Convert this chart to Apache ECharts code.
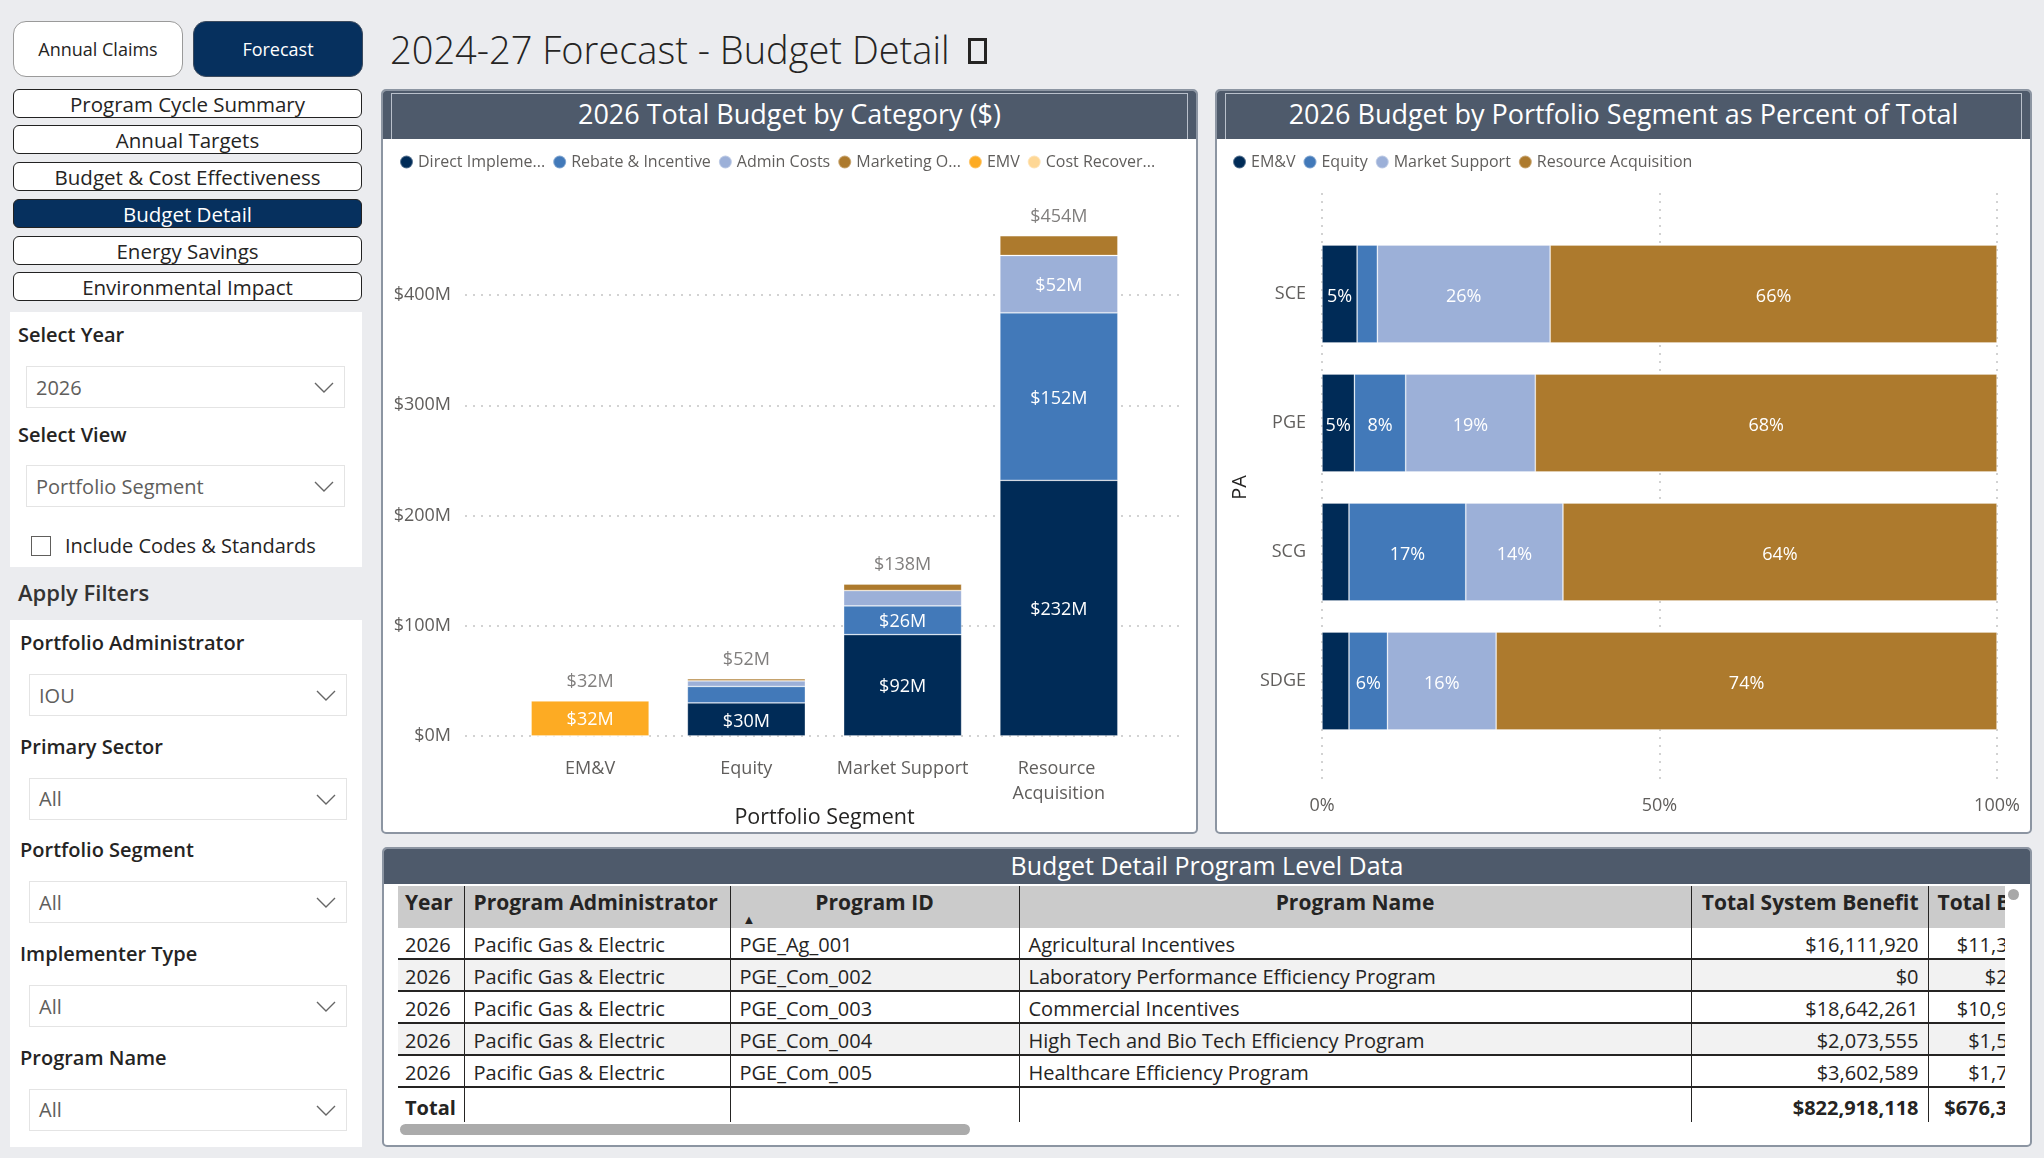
<!DOCTYPE html>
<html>
<head>
<meta charset="utf-8">
<title>2024-27 Forecast - Budget Detail</title>
<script src="https://cdn.jsdelivr.net/npm/echarts@6/dist/echarts.min.js"></script>
<style>
  body { margin: 0; width: 2044px; height: 1158px; background: #EBECEF; overflow: hidden; position: relative;
         font-family: 'Open Sans', 'Noto Sans', sans-serif; color: #252423; }
  .abs { position: absolute; box-sizing: border-box; }
  .topbtn { position: absolute; top: 21px; height: 56px; width: 170px; box-sizing: border-box; border-radius: 13px;
            display: flex; align-items: center; justify-content: center; font-size: 18px; }
  .nav { position: absolute; left: 13px; width: 349px; height: 29px; box-sizing: border-box; border: 1.5px solid #222;
         border-radius: 6px; background: #fff; display: flex; align-items: center; justify-content: center; font-size: 20.5px; }
  .nav.on { background: #06305E; color: #fff; }
  .panel { position: absolute; left: 10px; width: 352px; background: #fff; }
  .lbl { position: absolute; font-size: 20px; font-weight: 600; line-height: 24px; }
  .dd { position: absolute; height: 42px; box-sizing: border-box; border: 1px solid #E4E4E4; background: #fff;
        font-size: 20px; color: #605E5C; display: flex; align-items: center; padding-left: 9px; }
  .dd svg { position: absolute; right: 10px; top: 15px; }
  .card { position: absolute; background: #fff; border: 2px solid #8C95A2; border-radius: 5px; box-sizing: border-box; overflow: hidden; }
  .band { position: absolute; left: 0; right: 0; top: 0; background: #4E5A6B; color: #fff; text-align: center; white-space: nowrap; }
  .band .inner { position: absolute; left: 8px; right: 8px; top: 2px; bottom: 0; border: 1px solid #B9C0CB; border-bottom: none; }
  table { border-collapse: collapse; table-layout: fixed; font-size: 20px; width: 1681px; }
  th { background: #CBCBCB; font-weight: 700; font-size: 21px; height: 32px; padding: 0 9px 10px 9px; border-left: 1px solid #252423;
       white-space: nowrap; overflow: hidden; }
  td { height: 27px; padding: 3px 9px 0 9px; border-left: 1px solid #252423; white-space: nowrap; overflow: hidden; }
  th:first-child, td:first-child { border-left: none; padding-left: 7px; }
  tr.row td { border-bottom: 2px solid #252423; }
  tr.alt td { background: #F2F2F2; }
  tr.tot td { font-weight: 700; height: 30px; padding-top: 4px; }
  #chart { position: absolute; left: 0; top: 0; width: 2044px; height: 1158px; z-index: 5; }
</style>
</head>
<body>

<div class="topbtn" style="left:13px;background:#fff;border:1.5px solid #9A9A9A;">Annual Claims</div>
<div class="topbtn" style="left:193px;background:#06305E;border:1.5px solid #3B4A5E;color:#fff;">Forecast</div>
<div class="abs" style="left:390px;top:19px;font-size:38px;font-weight:300;white-space:nowrap;line-height:60px;">2024-27 Forecast - Budget Detail</div>
<div class="abs" style="left:968px;top:38px;width:19px;height:26px;border:3px solid #252423;"></div>

<div id="navs"></div>

<div class="panel" style="top:312px;height:255px;">
  <div class="lbl" style="left:8px;top:11px;">Select Year</div>
  <div class="dd" style="left:16px;top:54px;width:319px;">2026<svg width="20" height="11"><polyline points="1,1 10,10 19,1" fill="none" stroke="#666" stroke-width="1.4"/></svg></div>
  <div class="lbl" style="left:8px;top:111px;">Select View</div>
  <div class="dd" style="left:16px;top:153px;width:319px;">Portfolio Segment<svg width="20" height="11"><polyline points="1,1 10,10 19,1" fill="none" stroke="#666" stroke-width="1.4"/></svg></div>
  <div class="abs" style="left:21px;top:224px;width:20px;height:20px;border:1.5px solid #605E5C;"></div>
  <div class="abs" style="left:55px;top:220px;font-size:20px;">Include Codes &amp; Standards</div>
</div>

<div class="abs" style="left:18px;top:577px;font-size:22px;font-weight:600;color:#333;">Apply Filters</div>
<div class="panel" id="filters" style="top:620px;height:527px;"></div>

<div class="card" style="left:381px;top:89px;width:817px;height:745px;">
  <div class="band" style="height:48px;"><div class="inner"></div><div style="position:relative;line-height:46px;font-size:27px;">2026 Total Budget by Category ($)</div></div>
</div>
<div class="card" style="left:1215px;top:89px;width:817px;height:745px;">
  <div class="band" style="height:48px;"><div class="inner"></div><div style="position:relative;line-height:46px;font-size:27px;">2026 Budget by Portfolio Segment as Percent of Total</div></div>
</div>

<div class="card" style="left:382px;top:847px;width:1650px;height:300px;">
  <div class="band" style="height:35px;line-height:33px;font-size:25px;">Budget Detail Program Level Data</div>
  <div class="abs" style="left:14px;top:37px;width:1607px;height:238px;overflow:hidden;">
    <table id="tbl"></table>
  </div>
  <div class="abs" style="left:16px;top:275px;width:570px;height:11px;border-radius:6px;background:#ABABAB;"></div>
  <div class="abs" style="left:1624px;top:40px;width:11px;height:11px;border-radius:6px;background:#A8A8A8;"></div>
</div>

<div id="chart"></div>

<script>
// ---- chart data ----
var segments = ['EM&V', 'Equity', 'Market Support', 'Resource Acquisition'];
var budgetCategories = ['Direct Implementation', 'Rebate & Incentive', 'Admin Costs', 'Marketing Outreach', 'EMV', 'Cost Recovery'];
var legendShort = ['Direct Impleme...', 'Rebate & Incentive', 'Admin Costs', 'Marketing O...', 'EMV', 'Cost Recover...'];
// $M per segment (EM&V, Equity, Market Support, Resource Acquisition)
var directImpl = [0, 30, 92, 232];
var rebateIncentive = [0, 15, 26, 152];
var adminCosts = [0, 5, 14, 52];
var marketing = [0, 2, 6, 18];
var emv = [32, 0, 0, 0];
var costRecovery = [0, 0, 0, 0];
var budgetTicks = [0, 100, 200, 300, 400];

// percent of PA total
var admins = ['SCE', 'PGE', 'SCG', 'SDGE'];
var pctEmv = [5.2, 4.8, 4.0, 4.0];
var pctEquity = [3.0, 7.6, 17.3, 5.7];
var pctMarket = [25.6, 19.2, 14.4, 16.1];
var pctResource = [66.2, 68.4, 64.3, 74.2];
var shareTicks = [0, 50, 100];

// ---- table data ----
var tblHead = ['Year', 'Program Administrator', 'Program ID', 'Program Name', 'Total System Benefit', 'Total Budget'];
var tblYears = ['2026', '2026', '2026', '2026', '2026'];
var tblAdmins = ['Pacific Gas & Electric', 'Pacific Gas & Electric', 'Pacific Gas & Electric', 'Pacific Gas & Electric', 'Pacific Gas & Electric'];
var tblIds = ['PGE_Ag_001', 'PGE_Com_002', 'PGE_Com_003', 'PGE_Com_004', 'PGE_Com_005'];
var tblNames = ['Agricultural Incentives', 'Laboratory Performance Efficiency Program', 'Commercial Incentives',
                'High Tech and Bio Tech Efficiency Program', 'Healthcare Efficiency Program'];
var tblBenefit = ['$16,111,920', '$0', '$18,642,261', '$2,073,555', '$3,602,589'];
var tblBudget = ['$11,340,210', '$240,115', '$10,950,372', '$1,540,806', '$1,720,144'];
var tblTotals = ['$822,918,118', '$676,340,552'];

var navItems = ['Program Cycle Summary', 'Annual Targets', 'Budget & Cost Effectiveness', 'Budget Detail', 'Energy Savings', 'Environmental Impact'];
var navTops = [89, 125, 162, 199, 236, 272];
var filterLabels = ['Portfolio Administrator', 'Primary Sector', 'Portfolio Segment', 'Implementer Type', 'Program Name'];
var filterValues = ['IOU', 'All', 'All', 'All', 'All'];

var chevron = '<svg width="20" height="11"><polyline points="1,1 10,10 19,1" fill="none" stroke="#666" stroke-width="1.4"/></svg>';

// sidebar
var navHtml = '';
navItems.forEach(function (t, i) {
  navHtml += '<div class="nav' + (t === 'Budget Detail' ? ' on' : '') + '" style="top:' + navTops[i] + 'px">' + t.replace('&', '&amp;') + '</div>';
});
document.getElementById('navs').innerHTML = navHtml;

var fHtml = '';
filterLabels.forEach(function (t, i) {
  var y = i * 103.7;
  fHtml += '<div class="lbl" style="left:10px;top:' + (y + 11) + 'px">' + t + '</div>';
  fHtml += '<div class="dd" style="left:19px;top:' + (y + 54) + 'px;width:318px">' + filterValues[i] + chevron + '</div>';
});
document.getElementById('filters').innerHTML = fHtml;

// table
var widths = [66, 266, 289, 672, 237, 151];
var headAlign = ['left', 'left', 'center', 'center', 'right', 'left'];
var cellAlign = ['left', 'left', 'left', 'left', 'right', 'right'];
var h = '<colgroup>' + widths.map(function (w) { return '<col style="width:' + w + 'px">'; }).join('') + '</colgroup><tr>';
tblHead.forEach(function (t, i) {
  var extra = t === 'Program ID' ? '<div style="position:absolute;left:12px;top:27px;font-size:13px;line-height:13px;">&#9650;</div>' : '';
  h += '<th style="text-align:' + headAlign[i] + ';position:relative;vertical-align:middle;">' + t + extra + '</th>';
});
h += '</tr>';
tblIds.forEach(function (id, r) {
  var cells = [tblYears[r], tblAdmins[r].replace('&', '&amp;'), id, tblNames[r], tblBenefit[r], tblBudget[r]];
  h += '<tr class="row' + (r % 2 ? ' alt' : '') + '">' + cells.map(function (c, i) {
    return '<td style="text-align:' + cellAlign[i] + '">' + c + '</td>';
  }).join('') + '</tr>';
});
h += '<tr class="tot"><td>Total</td><td></td><td></td><td></td><td style="text-align:right">' + tblTotals[0] +
     '</td><td style="text-align:right">' + tblTotals[1] + '</td></tr>';
document.getElementById('tbl').innerHTML = h;

// ---- charts ----
var FONT = "'Open Sans', 'Noto Sans', sans-serif";
var GRAY = '#605E5C';
var palette = ['#002B57', '#4279B9', '#9CB0D8', '#AD7A2D', '#FDAB23', '#FED795'];
var dotted = { type: [2, 6], color: '#C4C4C4', width: 1.5 };
var seam = { borderColor: 'rgba(255,255,255,0.35)', borderWidth: 0.8 };
var categoryValues = [directImpl, rebateIncentive, adminCosts, marketing, emv, costRecovery];
var segmentTotals = segments.map(function (_, i) {
  return categoryValues.reduce(function (s, arr) { return s + arr[i]; }, 0);
});
var shareValues = [pctEmv, pctEquity, pctMarket, pctResource];

var chart = echarts.init(document.getElementById('chart'));

var series = budgetCategories.map(function (name, k) {
  return {
    name: name, type: 'bar', xAxisIndex: 1, yAxisIndex: 1, stack: 'budget', barWidth: 118,
    itemStyle: Object.assign({ color: palette[k] }, seam),
    label: {
      show: true, position: 'inside', color: '#fff', fontSize: 18, fontFamily: FONT, offset: [0, 2],
      formatter: function (p) { return p.value >= 20 ? '$' + p.value + 'M' : ''; }
    },
    data: categoryValues[k]
  };
});
series.push({
  type: 'scatter', xAxisIndex: 1, yAxisIndex: 1, symbolSize: 0, silent: true,
  label: {
    show: true, position: 'top', distance: 10, color: GRAY, fontSize: 18, fontFamily: FONT,
    formatter: function (p) { return '$' + p.value + 'M'; }
  },
  data: segmentTotals
});
shareValues.forEach(function (arr, k) {
  series.push({
    name: segments[k], type: 'bar', xAxisIndex: 3, yAxisIndex: 3, stack: 'share', barWidth: 98,
    itemStyle: Object.assign({ color: palette[k] }, seam),
    label: {
      show: true, position: 'inside', color: '#fff', fontSize: 18, fontFamily: FONT, offset: [0, 3],
      formatter: function (p) { return p.value >= 4.5 ? Math.round(p.value) + '%' : ''; }
    },
    data: arr
  });
});

var legendBase = {
  icon: 'circle', itemWidth: 13, itemHeight: 13, itemGap: 7, top: 149, selectedMode: false,
  textStyle: { color: GRAY, fontSize: 16, fontFamily: FONT }
};

chart.setOption({
  animation: false,
  textStyle: { fontFamily: FONT },
  legend: [
    Object.assign({}, legendBase, {
      left: 394, data: budgetCategories,
      formatter: function (n) { return legendShort[budgetCategories.indexOf(n)]; }
    }),
    Object.assign({}, legendBase, { left: 1227, data: segments })
  ],
  grid: [
    { left: 465, top: 295, width: 719, height: 441 },
    { left: 512, top: 207, width: 625, height: 529 },
    { left: 1322, top: 193, width: 675, height: 589 },
    { left: 1322, top: 229.5, width: 675, height: 516 }
  ],
  xAxis: [
    { gridIndex: 0, type: 'value', show: false, min: 0, max: 1 },
    {
      gridIndex: 1, type: 'category', data: segments,
      axisLine: { show: false }, axisTick: { show: false },
      axisLabel: { interval: 0, margin: 20, color: GRAY, fontSize: 18, lineHeight: 25, width: 150, overflow: 'break' },
      name: 'Portfolio Segment', nameLocation: 'middle', nameGap: 61,
      nameTextStyle: { color: '#252423', fontSize: 21.5 }
    },
    {
      gridIndex: 2, type: 'value', min: shareTicks[0], max: shareTicks[shareTicks.length - 1],
      interval: shareTicks[1] - shareTicks[0],
      axisLine: { show: false }, axisTick: { show: false },
      axisLabel: { margin: 14.5, color: GRAY, fontSize: 18, formatter: '{value}%' },
      splitLine: { lineStyle: dotted }
    },
    { gridIndex: 3, type: 'value', min: 0, max: 100, show: false }
  ],
  yAxis: [
    {
      gridIndex: 0, type: 'value', min: budgetTicks[0], max: budgetTicks[budgetTicks.length - 1],
      interval: budgetTicks[1] - budgetTicks[0],
      axisLine: { show: false }, axisTick: { show: false },
      axisLabel: { margin: 14, color: GRAY, fontSize: 18, formatter: function (v) { return '$' + v + 'M'; } },
      splitLine: { lineStyle: dotted }
    },
    { gridIndex: 1, type: 'value', min: 0, max: 480, show: false },
    { gridIndex: 2, type: 'value', min: 0, max: 1, show: false },
    {
      gridIndex: 3, type: 'category', data: admins, inverse: true,
      axisLine: { show: false }, axisTick: { show: false },
      axisLabel: { margin: 16, color: GRAY, fontSize: 18, padding: [11, 0, 0, 0] },
      name: 'PA', nameLocation: 'middle', nameGap: 72,
      nameTextStyle: { color: '#252423', fontSize: 20 }
    }
  ],
  series: series
});
</script>
</body>
</html>
